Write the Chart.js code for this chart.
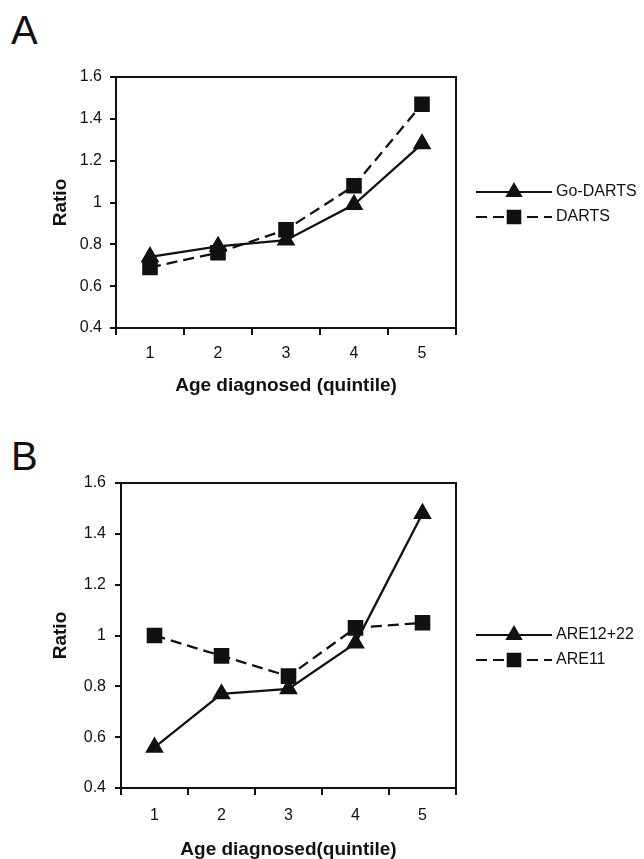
<!DOCTYPE html>
<html>
<head>
<meta charset="utf-8">
<script src="https://cdn.jsdelivr.net/npm/chart.js@4.4.1/dist/chart.umd.min.js"></script>
<style>
    body { margin: 0; background: #fff; }
    #page { position: relative; width: 644px; height: 859px; overflow: hidden; }
    canvas { position: absolute; left: 0; }
    .panel { position: absolute; left: 11px; font: 40px "Liberation Sans", Arial, sans-serif; line-height: 40px; color: #111; }
</style>
</head>
<body>
<div id="page">
    <div class="panel" style="top:10px">A</div>
    <canvas id="ChartA" width="644" height="430" style="top:0"></canvas>
    <div class="panel" style="top:436px">B</div>
    <canvas id="ChartB" width="644" height="429" style="top:430px"></canvas>
</div>
<script>
const quintiles = ['1', '2', '3', '4', '5'];
const yMin = 0.4;
const yMax = 1.6;
const yStep = 0.2;

const goDartsLabel = 'Go-DARTS';
const goDarts = [0.74, 0.79, 0.82, 0.99, 1.28];
const dartsLabel = 'DARTS';
const darts = [0.69, 0.76, 0.87, 1.08, 1.47];

const are1222Label = 'ARE12+22';
const are1222 = [0.56, 0.77, 0.79, 0.97, 1.48];
const are11Label = 'ARE11';
const are11 = [1.00, 0.92, 0.84, 1.03, 1.05];

const fontFamily = '"Liberation Sans", Arial, sans-serif';
const ink = '#111';

// box round the plot area
const frame = {
    id: 'frame',
    afterDraw(chart) {
        const {ctx, chartArea} = chart;
        ctx.save();
        ctx.strokeStyle = ink;
        ctx.lineWidth = 2;
        ctx.strokeRect(chartArea.left, chartArea.top, chartArea.right - chartArea.left, chartArea.bottom - chartArea.top);
        ctx.restore();
    }
};

// excel style legend: line - marker - line, then label
const sideLegend = {
    id: 'sideLegend',
    afterDraw(chart, args, opts) {
        const ctx = chart.ctx;
        ctx.save();
        chart.data.datasets.forEach((ds, i) => {
            const y = opts.top + i * opts.rowGap;
            ctx.strokeStyle = ink;
            ctx.lineWidth = 2;
            ctx.setLineDash(ds.borderDash || []);
            ctx.beginPath();
            ctx.moveTo(opts.x, y);
            ctx.lineTo(opts.x + opts.lineLength, y);
            ctx.stroke();
            ctx.setLineDash([]);
            Chart.helpers.drawPoint(ctx, {pointStyle: ds.pointStyle, radius: ds.pointRadius - 0.5, rotation: 0, borderWidth: 1}, opts.x + opts.lineLength / 2, y);
            ctx.fillStyle = ink;
            ctx.fill();
            ctx.font = '16px ' + fontFamily;
            ctx.textBaseline = 'middle';
            ctx.textAlign = 'left';
            ctx.fillText(ds.label, opts.x + opts.lineLength + 4, y);
        });
        ctx.restore();
    }
};

function makeDataset(label, values, style, radius, dash) {
    return {
        label: label,
        data: values,
        borderColor: ink,
        borderWidth: 2.3,
        borderDash: dash,
        pointStyle: style,
        pointRadius: radius,
        pointBackgroundColor: ink,
        pointBorderColor: ink,
        tension: 0
    };
}

function makeChart(canvasId, datasets, layout) {
    new Chart(document.getElementById(canvasId), {
        type: 'line',
        data: {
            labels: quintiles,
            datasets: datasets
        },
        options: {
            responsive: false,
            animation: false,
            devicePixelRatio: 1,
            layout: {
                padding: {left: 40, right: 188, top: layout.top, bottom: 0}
            },
            scales: {
                x: {
                    type: 'category',
                    offset: true,
                    afterFit: scale => { scale.height = layout.xHeight; },
                    grid: {offset: true, drawOnChartArea: false, tickLength: 7, color: ink, lineWidth: 2},
                    border: {color: ink, width: 2},
                    ticks: {color: ink, padding: layout.xTickPad, font: {family: fontFamily, size: 16}},
                    title: {
                        display: true,
                        text: layout.xTitle,
                        color: ink,
                        font: {family: fontFamily, size: 19, weight: 'bold', lineHeight: 1},
                        padding: {top: 0, bottom: layout.xTitlePad}
                    }
                },
                y: {
                    min: yMin,
                    max: yMax,
                    afterFit: scale => { scale.width = layout.yWidth; },
                    grid: {drawOnChartArea: false, tickLength: 6, color: ink, lineWidth: 2},
                    border: {color: ink, width: 2},
                    ticks: {
                        stepSize: yStep,
                        color: ink,
                        padding: layout.yTickPad,
                        font: {family: fontFamily, size: 16},
                        callback: v => String(+v.toFixed(1))
                    },
                    title: {
                        display: true,
                        text: 'Ratio',
                        color: ink,
                        font: {family: fontFamily, size: 19, weight: 'bold', lineHeight: 1},
                        padding: {top: 11, bottom: 0}
                    }
                }
            },
            plugins: {
                legend: {display: false},
                tooltip: {enabled: false},
                sideLegend: {x: 476, lineLength: 76, top: layout.legendTop, rowGap: 25}
            }
        },
        plugins: [frame, sideLegend]
    });
}

makeChart('ChartA', [
    makeDataset(goDartsLabel, goDarts, 'triangle', 8.5, []),
    makeDataset(dartsLabel, darts, 'rect', 9.4, [11, 6])
], {top: 77, xHeight: 102, yWidth: 76, xTickPad: 9, yTickPad: 8, xTitle: 'Age diagnosed (quintile)', xTitlePad: 35, legendTop: 192});

makeChart('ChartB', [
    makeDataset(are1222Label, are1222, 'triangle', 8.5, []),
    makeDataset(are11Label, are11, 'rect', 9.4, [11, 6])
], {top: 53, xHeight: 71, yWidth: 81, xTickPad: 11, yTickPad: 9, xTitle: 'Age diagnosed(quintile)', xTitlePad: 0, legendTop: 205});
</script>
</body>
</html>
